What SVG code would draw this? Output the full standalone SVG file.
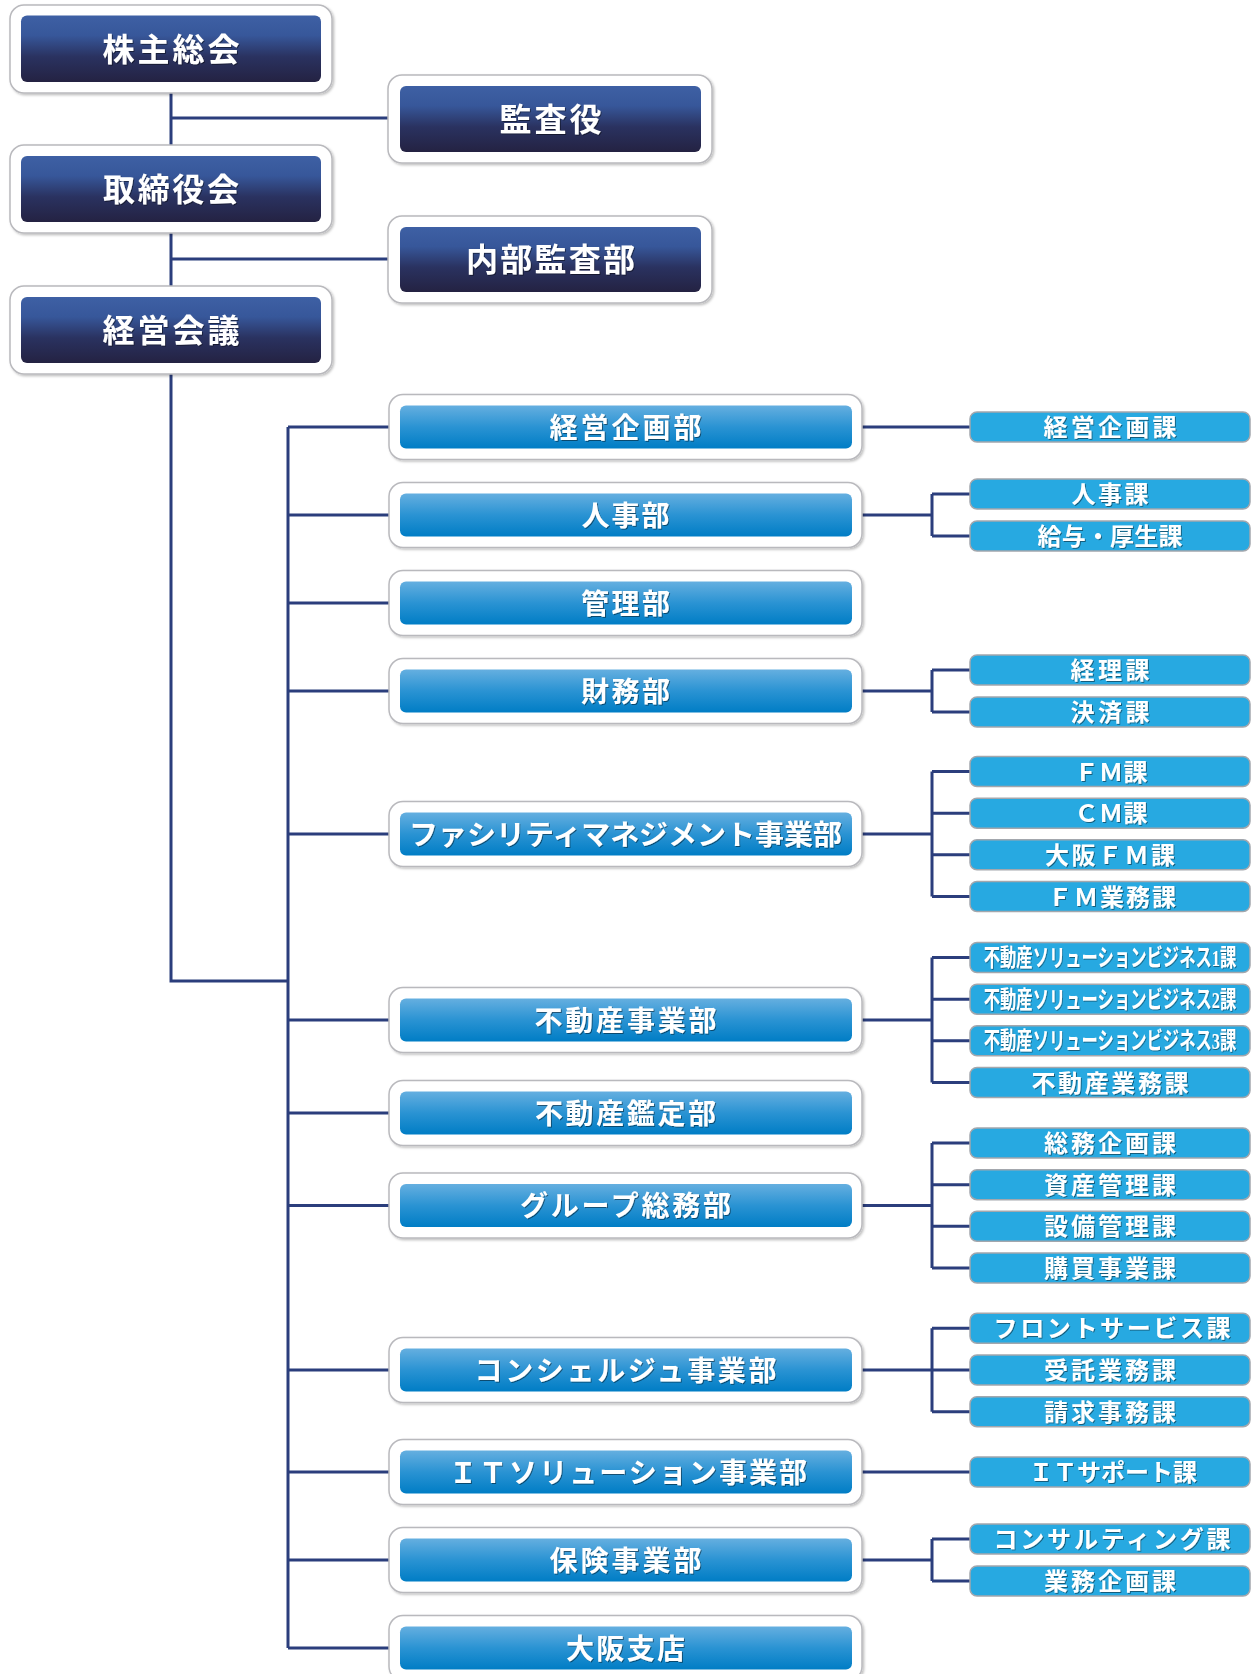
<svg xmlns="http://www.w3.org/2000/svg" width="1257" height="1674" viewBox="0 0 1257 1674">
<defs>
<linearGradient id="gNavy" x1="0" y1="0" x2="0" y2="1">
<stop offset="0" stop-color="#3e60a4"/>
<stop offset="0.3" stop-color="#37579a"/>
<stop offset="0.62" stop-color="#2a3260"/>
<stop offset="1" stop-color="#242242"/>
</linearGradient>
<linearGradient id="gBlue" x1="0" y1="0" x2="0" y2="1">
<stop offset="0" stop-color="#65afe0"/>
<stop offset="0.5" stop-color="#2a93d3"/>
<stop offset="1" stop-color="#007dc5"/>
</linearGradient>
<filter id="boxShadow" x="-5%" y="-10%" width="112%" height="130%">
<feDropShadow dx="1.5" dy="1.5" stdDeviation="1" flood-color="#000" flood-opacity="0.25"/>
</filter>
<filter id="txtShadow" x="-5%" y="-20%" width="110%" height="150%">
<feDropShadow dx="1" dy="1" stdDeviation="0.6" flood-color="#000" flood-opacity="0.45"/>
</filter>
</defs>
<style>
.outer{fill:#ffffff;stroke:#b9b9bd;stroke-width:1.5;filter:url(#boxShadow)}
.navy{fill:url(#gNavy)}
.blue{fill:url(#gBlue)}
.sub{fill:#27a9e1;stroke:#a3a7ad;stroke-width:1.5}
.conn{fill:none;stroke:#2b3e7c;stroke-width:3;stroke-linejoin:miter}
text{font-family:"Liberation Serif","Noto Sans CJK JP",sans-serif;font-weight:700;fill:#ffffff;text-anchor:middle;filter:url(#txtShadow)}
.t1{font-size:32px}
.t2{font-size:28px}
.t3{font-size:24px}
</style>

<g id="connectors" class="conn">
<path d="M171 93 V145 M171 118 H388 M171 233 V286 M171 259 H388 M171 374 V981 H288 M288 427 V1648"/>
<path d="M288 427 H389 M288 515 H389 M288 603 H389 M288 691 H389 M288 834 H389 M288 1020 H389 M288 1113 H389 M288 1205.5 H389 M288 1370 H389 M288 1472 H389 M288 1560 H389 M288 1648 H389"/>
<path d="M862 427 H970"/>
<path d="M862 515 H932 M932 494 V536 M932 494 H970 M932 536 H970"/>
<path d="M862 691 H932 M932 670 V712 M932 670 H970 M932 712 H970"/>
<path d="M862 834 H932 M932 771.5 V896.5 M932 771.5 H970 M932 813.2 H970 M932 854.8 H970 M932 896.5 H970"/>
<path d="M862 1020 H932 M932 957.5 V1082.5 M932 957.5 H970 M932 999.2 H970 M932 1040.8 H970 M932 1082.5 H970"/>
<path d="M862 1205.5 H932 M932 1143 V1268 M932 1143 H970 M932 1184.7 H970 M932 1226.3 H970 M932 1268 H970"/>
<path d="M862 1370 H932 M932 1328.3 V1411.7 M932 1328.3 H970 M932 1370 H970 M932 1411.7 H970"/>
<path d="M862 1472 H970"/>
<path d="M862 1560 H932 M932 1539 V1581 M932 1539 H970 M932 1581 H970"/>
</g>

<g id="kabunushi-sokai">
<rect class="outer" x="10" y="5" width="322" height="88" rx="14"/>
<rect class="navy" x="21" y="15.5" width="300" height="66.5" rx="6"/>
<text class="t1" x="171" y="61" textLength="137" lengthAdjust="spacing">株主総会</text>
</g>
<g id="kansayaku">
<rect class="outer" x="388" y="75" width="324" height="88" rx="14"/>
<rect class="navy" x="400" y="86" width="301" height="66" rx="6"/>
<text class="t1" x="550.5" y="131" textLength="102" lengthAdjust="spacing">監査役</text>
</g>
<g id="torishimariyakukai">
<rect class="outer" x="10" y="145" width="322" height="88" rx="14"/>
<rect class="navy" x="21" y="156" width="300" height="66" rx="6"/>
<text class="t1" x="171" y="201" textLength="136" lengthAdjust="spacing">取締役会</text>
</g>
<g id="naibu-kansabu">
<rect class="outer" x="388" y="216" width="324" height="87" rx="14"/>
<rect class="navy" x="400" y="227" width="301" height="65" rx="6"/>
<text class="t1" x="550.5" y="271" textLength="169" lengthAdjust="spacing">内部監査部</text>
</g>
<g id="keiei-kaigi">
<rect class="outer" x="10" y="286" width="322" height="88" rx="14"/>
<rect class="navy" x="21" y="297" width="300" height="66" rx="6"/>
<text class="t1" x="171" y="342" textLength="137" lengthAdjust="spacing">経営会議</text>
</g>

<g id="dept-keiei-kikaku">
<rect class="outer" x="389" y="394.5" width="473" height="65" rx="14"/>
<rect class="blue" x="400" y="405.5" width="452" height="43" rx="6"/>
<text class="t2" x="625.5" y="437.5" textLength="152" lengthAdjust="spacing">経営企画部</text>
</g>
<g id="dept-jinji">
<rect class="outer" x="389" y="482.5" width="473" height="65" rx="14"/>
<rect class="blue" x="400" y="493.5" width="452" height="43" rx="6"/>
<text class="t2" x="625.5" y="525.5" textLength="88" lengthAdjust="spacing">人事部</text>
</g>
<g id="dept-kanri">
<rect class="outer" x="389" y="570.5" width="473" height="65" rx="14"/>
<rect class="blue" x="400" y="581.5" width="452" height="43" rx="6"/>
<text class="t2" x="625.5" y="613.5" textLength="89" lengthAdjust="spacing">管理部</text>
</g>
<g id="dept-zaimu">
<rect class="outer" x="389" y="658.5" width="473" height="65" rx="14"/>
<rect class="blue" x="400" y="669.5" width="452" height="43" rx="6"/>
<text class="t2" x="625.5" y="701.5" textLength="89" lengthAdjust="spacing">財務部</text>
</g>
<g id="dept-fm">
<rect class="outer" x="389" y="801.5" width="473" height="65" rx="14"/>
<rect class="blue" x="400" y="812.5" width="452" height="43" rx="6"/>
<text class="t2" x="625.5" y="844.5" textLength="433" lengthAdjust="spacingAndGlyphs">ファシリティマネジメント事業部</text>
</g>
<g id="dept-fudosan">
<rect class="outer" x="389" y="987.5" width="473" height="65" rx="14"/>
<rect class="blue" x="400" y="998.5" width="452" height="43" rx="6"/>
<text class="t2" x="625.5" y="1030.5" textLength="182" lengthAdjust="spacing">不動産事業部</text>
</g>
<g id="dept-kantei">
<rect class="outer" x="389" y="1080.5" width="473" height="65" rx="14"/>
<rect class="blue" x="400" y="1091.5" width="452" height="43" rx="6"/>
<text class="t2" x="625.5" y="1123.5" textLength="181" lengthAdjust="spacing">不動産鑑定部</text>
</g>
<g id="dept-group-somu">
<rect class="outer" x="389" y="1173" width="473" height="65" rx="14"/>
<rect class="blue" x="400" y="1184" width="452" height="43" rx="6"/>
<text class="t2" x="625.5" y="1216" textLength="211" lengthAdjust="spacing">グループ総務部</text>
</g>
<g id="dept-concierge">
<rect class="outer" x="389" y="1337.5" width="473" height="65" rx="14"/>
<rect class="blue" x="400" y="1348.5" width="452" height="43" rx="6"/>
<text class="t2" x="625.5" y="1380.5" textLength="302" lengthAdjust="spacing">コンシェルジュ事業部</text>
</g>
<g id="dept-it">
<rect class="outer" x="389" y="1439.5" width="473" height="65" rx="14"/>
<rect class="blue" x="400" y="1450.5" width="452" height="43" rx="6"/>
<text class="t2" x="628" y="1482.5" textLength="358" lengthAdjust="spacing">ＩＴソリューション事業部</text>
</g>
<g id="dept-hoken">
<rect class="outer" x="389" y="1527.5" width="473" height="65" rx="14"/>
<rect class="blue" x="400" y="1538.5" width="452" height="43" rx="6"/>
<text class="t2" x="625.5" y="1570.5" textLength="152" lengthAdjust="spacing">保険事業部</text>
</g>
<g id="dept-osaka">
<rect class="outer" x="389" y="1615.5" width="473" height="65" rx="14"/>
<rect class="blue" x="400" y="1626.5" width="452" height="43" rx="6"/>
<text class="t2" x="625.5" y="1658.5" textLength="119" lengthAdjust="spacing">大阪支店</text>
</g>

<g id="sec-keiei-kikaku"><rect class="sub" x="970" y="412" width="280" height="30" rx="7"/><text class="t3" x="1110" y="436" textLength="133" lengthAdjust="spacing">経営企画課</text></g>
<g id="sec-jinji"><rect class="sub" x="970" y="479" width="280" height="30" rx="7"/><text class="t3" x="1110" y="503" textLength="77" lengthAdjust="spacing">人事課</text></g>
<g id="sec-kyuyo"><rect class="sub" x="970" y="521" width="280" height="30" rx="7"/><text class="t3" x="1110" y="545" textLength="145" lengthAdjust="spacing">給与・厚生課</text></g>
<g id="sec-keiri"><rect class="sub" x="970" y="655" width="280" height="30" rx="7"/><text class="t3" x="1110" y="679" textLength="79" lengthAdjust="spacing">経理課</text></g>
<g id="sec-kessai"><rect class="sub" x="970" y="697" width="280" height="30" rx="7"/><text class="t3" x="1110" y="721" textLength="79" lengthAdjust="spacing">決済課</text></g>
<g id="sec-fm"><rect class="sub" x="970" y="756.5" width="280" height="30" rx="7"/><text class="t3" x="1111" y="780.5" textLength="73" lengthAdjust="spacing">ＦＭ課</text></g>
<g id="sec-cm"><rect class="sub" x="970" y="798.2" width="280" height="30" rx="7"/><text class="t3" x="1111" y="822.2" textLength="73" lengthAdjust="spacing">ＣＭ課</text></g>
<g id="sec-osaka-fm"><rect class="sub" x="970" y="839.8" width="280" height="30" rx="7"/><text class="t3" x="1110" y="863.8" textLength="130" lengthAdjust="spacing">大阪ＦＭ課</text></g>
<g id="sec-fm-gyomu"><rect class="sub" x="970" y="881.5" width="280" height="30" rx="7"/><text class="t3" x="1112" y="905.5" textLength="128" lengthAdjust="spacing">ＦＭ業務課</text></g>
<g id="sec-fudosan-sol1"><rect class="sub" x="970" y="942.5" width="280" height="30" rx="7"/><text class="t3" transform="translate(1110 966) scale(0.68 1)" x="0" y="0">不動産ソリューションビジネス1課</text></g>
<g id="sec-fudosan-sol2"><rect class="sub" x="970" y="984.2" width="280" height="30" rx="7"/><text class="t3" transform="translate(1110 1007.7) scale(0.68 1)" x="0" y="0">不動産ソリューションビジネス2課</text></g>
<g id="sec-fudosan-sol3"><rect class="sub" x="970" y="1025.8" width="280" height="30" rx="7"/><text class="t3" transform="translate(1110 1049.3) scale(0.68 1)" x="0" y="0">不動産ソリューションビジネス3課</text></g>
<g id="sec-fudosan-gyomu"><rect class="sub" x="970" y="1067.5" width="280" height="30" rx="7"/><text class="t3" x="1110" y="1091.5" textLength="157" lengthAdjust="spacing">不動産業務課</text></g>
<g id="sec-somu-kikaku"><rect class="sub" x="970" y="1128" width="280" height="30" rx="7"/><text class="t3" x="1110" y="1152" textLength="132" lengthAdjust="spacing">総務企画課</text></g>
<g id="sec-shisan"><rect class="sub" x="970" y="1169.7" width="280" height="30" rx="7"/><text class="t3" x="1110" y="1193.7" textLength="132" lengthAdjust="spacing">資産管理課</text></g>
<g id="sec-setsubi"><rect class="sub" x="970" y="1211.3" width="280" height="30" rx="7"/><text class="t3" x="1110" y="1235.3" textLength="132" lengthAdjust="spacing">設備管理課</text></g>
<g id="sec-kobai"><rect class="sub" x="970" y="1253" width="280" height="30" rx="7"/><text class="t3" x="1110" y="1277" textLength="132" lengthAdjust="spacing">購買事業課</text></g>
<g id="sec-front"><rect class="sub" x="970" y="1313.3" width="280" height="30" rx="7"/><text class="t3" x="1112" y="1337.3" textLength="237" lengthAdjust="spacing">フロントサービス課</text></g>
<g id="sec-jutaku"><rect class="sub" x="970" y="1355" width="280" height="30" rx="7"/><text class="t3" x="1110" y="1379" textLength="132" lengthAdjust="spacing">受託業務課</text></g>
<g id="sec-seikyu"><rect class="sub" x="970" y="1396.7" width="280" height="30" rx="7"/><text class="t3" x="1110" y="1420.7" textLength="132" lengthAdjust="spacing">請求事務課</text></g>
<g id="sec-it-support"><rect class="sub" x="970" y="1457" width="280" height="30" rx="7"/><text class="t3" x="1113" y="1481" textLength="168" lengthAdjust="spacing">ＩＴサポート課</text></g>
<g id="sec-consulting"><rect class="sub" x="970" y="1524" width="280" height="30" rx="7"/><text class="t3" x="1112" y="1548" textLength="237" lengthAdjust="spacing">コンサルティング課</text></g>
<g id="sec-gyomu-kikaku"><rect class="sub" x="970" y="1566" width="280" height="30" rx="7"/><text class="t3" x="1110" y="1590" textLength="132" lengthAdjust="spacing">業務企画課</text></g>
</svg>
